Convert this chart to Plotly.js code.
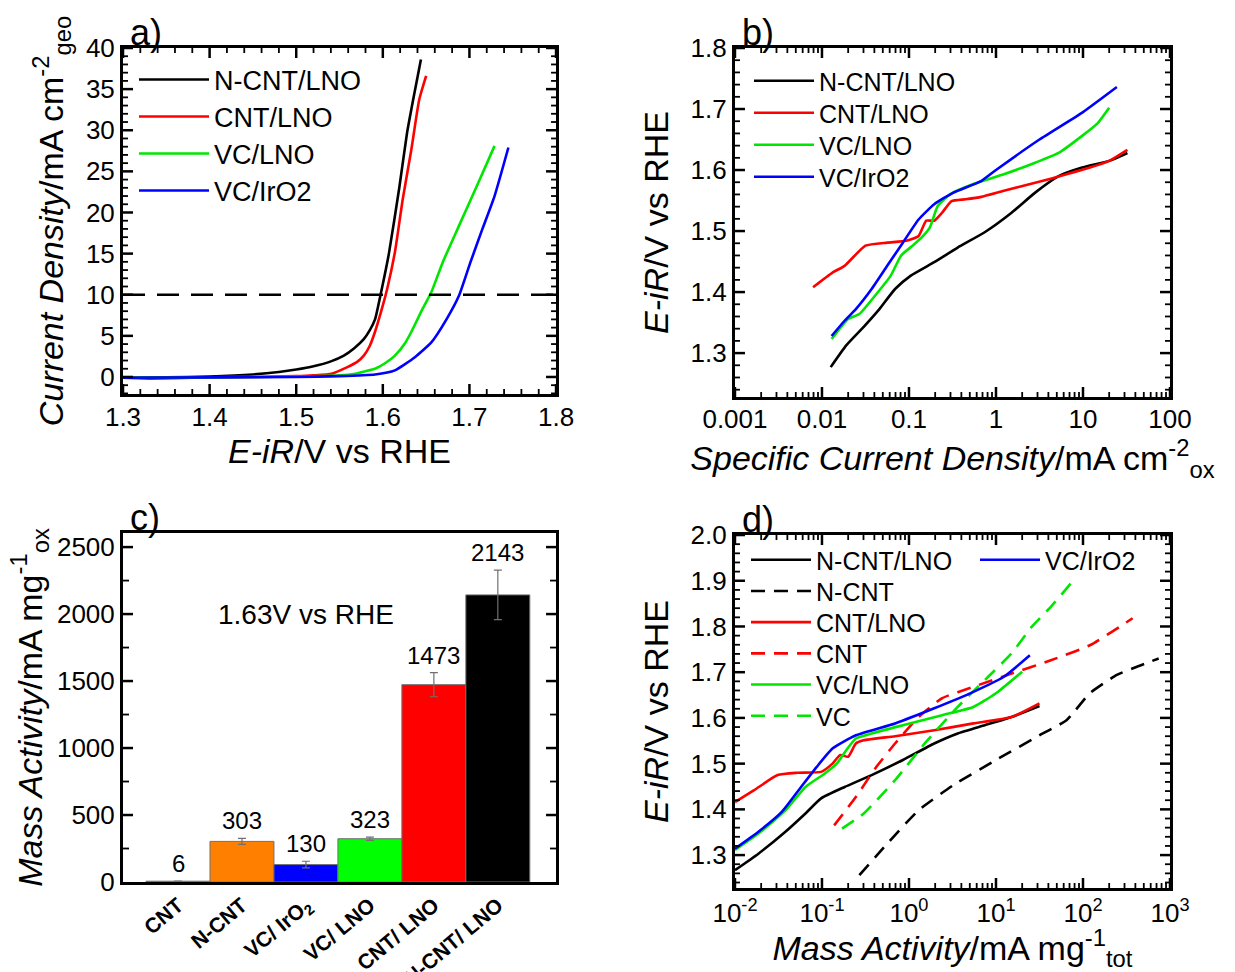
<!DOCTYPE html>
<html><head><meta charset="utf-8">
<script src="https://cdn.plot.ly/plotly-3.0.1.min.js"></script>
<style>body{margin:0;background:#fff}#chart{width:1235px;height:972px}</style>
</head><body><div id="chart"></div>
<script>
// ---------- Panel a: polarisation curves ----------
const aNcntLnoX = [1.30,1.35,1.40,1.45,1.48,1.50,1.52,1.54,1.555,1.567,1.578,1.585,1.591,1.598,1.607,1.619,1.628,1.635,1.644];
const aNcntLnoY = [-0.1,-0.05,0.05,0.3,0.6,0.9,1.3,1.9,2.6,3.5,4.6,5.7,7.0,10.3,15.0,23.0,29.7,33.7,38.6];
const aCntLnoX = [1.30,1.33,1.36,1.40,1.45,1.50,1.52,1.541,1.559,1.570,1.578,1.585,1.591,1.600,1.605,1.614,1.623,1.633,1.642,1.650];
const aCntLnoY = [-0.1,-0.2,-0.15,-0.05,0,0.1,0.2,0.4,1.2,1.8,2.6,3.8,5.5,8.7,10.7,15.2,21.6,27.7,33.7,36.6];
const aVcLnoX = [1.30,1.40,1.50,1.55,1.568,1.580,1.591,1.603,1.614,1.625,1.633,1.646,1.656,1.669,1.688,1.711,1.729];
const aVcLnoY = [-0.1,-0.05,0.05,0.2,0.4,0.7,1.0,1.7,2.6,4.0,5.5,8.3,10.3,13.9,18.4,23.8,28.1];
const aVcIrX = [1.30,1.40,1.50,1.55,1.591,1.614,1.637,1.656,1.674,1.688,1.701,1.715,1.729,1.745];
const aVcIrY = [-0.1,-0.05,0.0,0.1,0.3,0.8,2.4,4.2,7.1,9.9,13.9,18.0,22.0,27.9];
const aRefLineX = [1.3, 1.8];
const aRefLineY = [10, 10];
// ---------- Panel b: Tafel vs specific current density ----------
const bNcntLnoX = [0.0126,0.0191,0.0302,0.0457,0.0692,0.105,0.195,0.363,0.741,1.51,2.82,5.25,9.77,20.0,32.4];
const bNcntLnoY = [1.277,1.313,1.343,1.372,1.405,1.427,1.449,1.473,1.498,1.530,1.563,1.590,1.604,1.615,1.628];
const bCntLnoX = [0.0079,0.0132,0.0182,0.0316,0.0562,0.0933,0.129,0.158,0.195,0.240,0.309,0.447,0.676,1.23,2.82,6.46,12.0,20.0,32.4];
const bCntLnoY = [1.408,1.432,1.443,1.476,1.481,1.484,1.492,1.517,1.517,1.530,1.549,1.552,1.556,1.566,1.579,1.593,1.604,1.615,1.633];
const bVcLnoX = [0.0129,0.0200,0.0269,0.0407,0.0617,0.0813,0.110,0.141,0.174,0.214,0.295,0.550,1.23,2.82,5.25,9.77,14.8,20.0];
const bVcLnoY = [1.323,1.356,1.364,1.394,1.427,1.460,1.476,1.490,1.506,1.541,1.560,1.577,1.593,1.612,1.628,1.656,1.677,1.702];
const bVcIrX = [0.0129,0.0182,0.0245,0.0372,0.0562,0.0851,0.129,0.195,0.324,0.676,1.0,3.16,10.0,24.5];
const bVcIrY = [1.328,1.353,1.372,1.405,1.443,1.481,1.519,1.544,1.563,1.582,1.600,1.650,1.695,1.736];
const bTickVals = [0.001,0.01,0.1,1,10,100];
const bTickText = ['0.001','0.01','0.1','1','10','100'];
// ---------- Panel c: mass activity bars ----------
const cCategories = ['CNT','N-CNT','VC/ IrO<sub>2</sub>','VC/ LNO','CNT/ LNO','N-CNT/ LNO'];
const cValues = [6,303,130,323,1473,2143];
const cErrors = [0,22,25,12,90,185];
const cColors = ['#808080','#ff8000','#0000ff','#00ff00','#ff0000','#000000'];
// ---------- Panel d: Tafel vs mass activity ----------
const dNcntLnoX = [0.01,0.0186,0.0380,0.0646,0.0977,0.182,0.372,0.851,1.95,3.63,7.41,15.1,31.6];
const dNcntLnoY = [1.267,1.303,1.351,1.391,1.424,1.449,1.475,1.508,1.544,1.566,1.584,1.602,1.626];
const dNcntX = [0.269,0.562,1.29,3.24,10.0,31.6,64.6,120,245,417,741];
const dNcntY = [1.256,1.325,1.398,1.453,1.508,1.562,1.595,1.654,1.694,1.712,1.730];
const dCntLnoX = [0.01,0.0166,0.0309,0.0525,0.0977,0.132,0.162,0.200,0.245,0.302,0.692,1.95,5.50,15.1,31.6];
const dCntLnoY = [1.416,1.442,1.475,1.480,1.482,1.500,1.519,1.515,1.544,1.551,1.560,1.573,1.588,1.602,1.632];
const dCntX = [0.138,0.245,0.407,0.692,1.29,2.40,5.50,15.1,42.7,120,372];
const dCntY = [1.365,1.427,1.489,1.544,1.602,1.643,1.668,1.697,1.726,1.759,1.818];
const dVcLnoX = [0.01,0.0186,0.0380,0.0646,0.107,0.148,0.191,0.245,0.372,0.851,2.40,5.50,10.0,20.0];
const dVcLnoY = [1.311,1.347,1.398,1.449,1.478,1.500,1.530,1.555,1.566,1.584,1.606,1.624,1.654,1.701];
const dVcX = [0.170,0.302,0.692,1.58,3.63,8.13,15.1,25.7,42.7,72.4];
const dVcY = [1.358,1.391,1.464,1.548,1.624,1.690,1.741,1.799,1.843,1.894];
const dVcIrX = [0.01,0.0186,0.0347,0.0575,0.0871,0.132,0.245,0.692,1.95,5.50,12.3,24.5];
const dVcIrY = [1.314,1.351,1.395,1.449,1.493,1.533,1.562,1.588,1.621,1.657,1.690,1.737];
const dTickVals = [0.01,0.1,1,10,100,1000];
const dTickText = ['10<sup>-2</sup>','10<sup>-1</sup>','10<sup>0</sup>','10<sup>1</sup>','10<sup>2</sup>','10<sup>3</sup>'];

// ---------- styling ----------
const FONT = 'Liberation Sans, Arial, sans-serif';
const BLACK = '#000000', RED = '#ff0000', GREEN = '#00e600', BLUE = '#0000ff';
const LW = 2.6;
const DASH_D = '14px,9px';
function ln(x, y, color, name, xa, ya, legend, dash, showlegend) {
  return {x, y, type: 'scatter', mode: 'lines', name, xaxis: xa, yaxis: ya,
    legend: legend, showlegend: showlegend !== false,
    line: {color, width: LW, dash: dash || 'solid', shape: 'spline', smoothing: 0.5}, hoverinfo: 'skip'};
}
const traces = [
  ln(aNcntLnoX, aNcntLnoY, BLACK, 'N-CNT/LNO', 'x', 'y', 'legend'),
  ln(aCntLnoX, aCntLnoY, RED, 'CNT/LNO', 'x', 'y', 'legend2'),
  ln(aVcLnoX, aVcLnoY, GREEN, 'VC/LNO', 'x', 'y', 'legend3'),
  ln(aVcIrX, aVcIrY, BLUE, 'VC/IrO2', 'x', 'y', 'legend4'),
  ln(aRefLineX, aRefLineY, BLACK, 'ref', 'x', 'y', 'legend', '22px,12px', false),
  ln(bNcntLnoX, bNcntLnoY, BLACK, 'N-CNT/LNO', 'x2', 'y2', 'legend5'),
  ln(bCntLnoX, bCntLnoY, RED, 'CNT/LNO', 'x2', 'y2', 'legend6'),
  ln(bVcLnoX, bVcLnoY, GREEN, 'VC/LNO', 'x2', 'y2', 'legend7'),
  ln(bVcIrX, bVcIrY, BLUE, 'VC/IrO2', 'x2', 'y2', 'legend8'),
  {type: 'bar', x: cCategories, y: cValues, width: 1, xaxis: 'x3', yaxis: 'y3', showlegend: false,
   marker: {color: cColors, line: {color: '#707070', width: 1}},
   error_y: {type: 'data', array: cErrors, visible: true, color: '#707070', thickness: 1.2, width: 4},
   hoverinfo: 'skip'},
  ln(dNcntLnoX, dNcntLnoY, BLACK, 'N-CNT/LNO', 'x4', 'y4', 'legend9'),
  ln(dNcntX, dNcntY, BLACK, 'N-CNT', 'x4', 'y4', 'legend10', DASH_D),
  ln(dCntLnoX, dCntLnoY, RED, 'CNT/LNO', 'x4', 'y4', 'legend11'),
  ln(dCntX, dCntY, RED, 'CNT', 'x4', 'y4', 'legend12', DASH_D),
  ln(dVcLnoX, dVcLnoY, GREEN, 'VC/LNO', 'x4', 'y4', 'legend13'),
  ln(dVcX, dVcY, GREEN, 'VC', 'x4', 'y4', 'legend14', DASH_D),
  ln(dVcIrX, dVcIrY, BLUE, 'VC/IrO2', 'x4', 'y4', 'legend15')
];
const tickFont = {family: FONT, size: 26, color: '#000'};
const titleFont = {family: FONT, size: 34, color: '#000'};
function axisBase(extra) {
  return Object.assign({
    showline: true, linecolor: '#000', linewidth: 3, mirror: true,
    ticks: '', showgrid: false, zeroline: false, tickfont: tickFont, automargin: false
  }, extra);
}
const PX_L = 123, PX_W = 1047, PX_B = 888, PX_H = 840;
const DOM_A = {x: [0, 0.4136], y: [0.5881, 1]};
const DOM_B = {x: [0.5845, 1], y: [0.5845, 1]};
const DOM_C = {x: [0, 0.4136], y: [0.00714, 0.4226]};
const DOM_D = {x: [0.5845, 1], y: [0, 0.4202]};
const layout = {
  width: 1235, height: 972,
  margin: {l: 123, r: 65, t: 48, b: 84},
  xaxis: axisBase({domain: DOM_A.x, range: [1.3, 1.8], dtick: 0.1, tickformat: '.1f', ticklabelstandoff: -2,
    anchor: 'y', title: {text: '<i>E-iR</i>/V vs RHE', font: titleFont, standoff: 8}}),
  yaxis: axisBase({domain: DOM_A.y, range: [-2.07, 40], dtick: 5,
    anchor: 'x', title: {text: '<i>Current Density</i>/mA cm<sup>-2</sup><sub>geo</sub>', font: titleFont, standoff: 12}}),
  xaxis2: axisBase({domain: DOM_B.x, type: 'log', range: [-3, 2], tickmode: 'array',
    tickvals: bTickVals, ticktext: bTickText, ticklabelstandoff: -3,
    anchor: 'y2', title: {text: '<i>Specific Current Density</i>/mA cm<sup>-2</sup><sub>ox</sub>', font: titleFont, standoff: 2}}),
  yaxis2: axisBase({domain: DOM_B.y, range: [1.228, 1.8], dtick: 0.1, tickformat: '.1f',
    anchor: 'x2', title: {text: '<i>E-iR</i>/V vs RHE', font: titleFont, standoff: 12}}),
  xaxis3: axisBase({domain: DOM_C.x, range: [-0.86, 5.91], type: 'category',
    tickangle: -40, tickfont: {family: FONT, size: 21, color: '#000', weight: 'bold'}, anchor: 'y3'}),
  yaxis3: axisBase({domain: DOM_C.y, range: [0, 2605], dtick: 500,
    anchor: 'x3', title: {text: '<i>Mass Activity</i>/mA mg<sup>-1</sup><sub>ox</sub>', font: titleFont, standoff: 5}}),
  xaxis4: axisBase({domain: DOM_D.x, type: 'log', range: [-2, 3], tickmode: 'array',
    tickvals: dTickVals, ticktext: dTickText,
    anchor: 'y4', title: {text: '<i>Mass Activity</i>/mA mg<sup>-1</sup><sub>tot</sub>', font: titleFont, standoff: 4}}),
  yaxis4: axisBase({domain: DOM_D.y, range: [1.228, 2.0], dtick: 0.1, tickformat: '.1f',
    anchor: 'x4', title: {text: '<i>E-iR</i>/V vs RHE', font: titleFont, standoff: 12}}),
  annotations: [],
  shapes: [],
  showlegend: true
};

// ---------- inward tick marks on all four sides (axis decoration, drawn as layout shapes) ----------
function tickShape(xref, yref, x0, x1, y0, y1, w) {
  layout.shapes.push({type: 'line', xref, yref, x0, x1, y0, y1, layer: 'above',
    line: {color: '#000', width: w}});
}
// ticks along an x axis: value v (data or domain fraction), both bottom and top edges
function xTicks(xref, ya, vals, hPx, lenPx, w) {
  const f = lenPx / hPx;
  vals.forEach(v => { tickShape(xref, ya + ' domain', v, v, 0, f, w); tickShape(xref, ya + ' domain', v, v, 1, 1 - f, w); });
}
function yTicks(xa, yref, vals, wPx, lenPx, w) {
  const f = lenPx / wPx;
  vals.forEach(v => { tickShape(xa + ' domain', yref, 0, f, v, v, w); tickShape(xa + ' domain', yref, 1, 1 - f, v, v, w); });
}
function steps(a, b, d) { const out = []; for (let v = a; v <= b + 1e-9; v += d) out.push(+v.toFixed(6)); return out; }
function logFracs(minExp, maxExp, minor) {
  const out = [];
  for (let e = minExp; e < maxExp; e++) {
    (minor ? [2,3,4,5,6,7,8,9] : [1]).forEach(m => out.push((e + Math.log10(m) - minExp) / (maxExp - minExp)));
  }
  if (!minor) out.push(1);
  return out;
}
const PXW = d => (d[1] - d[0]) * PX_W, PXH = d => (d[1] - d[0]) * PX_H;
const MAJ = 10, MIN = 5, MAJW = 2.5, MINW = 1.8;
// panel a
xTicks('x', 'y', steps(1.3, 1.8, 0.1), PXH(DOM_A.y), MAJ, MAJW);
xTicks('x', 'y', steps(1.32, 1.78, 0.02).filter(v => Math.abs((v * 10) % 1) > 1e-6 && Math.abs((v * 10) % 1 - 1) > 1e-6), PXH(DOM_A.y), MIN, MINW);
yTicks('x', 'y', steps(0, 40, 5), PXW(DOM_A.x), MAJ, MAJW);
yTicks('x', 'y', steps(-2, 39, 1).filter(v => v % 5 !== 0), PXW(DOM_A.x), MIN, MINW);
// panel b
xTicks('x2 domain', 'y2', logFracs(-3, 2, false), PXH(DOM_B.y), MAJ, MAJW);
xTicks('x2 domain', 'y2', logFracs(-3, 2, true), PXH(DOM_B.y), MIN, MINW);
yTicks('x2', 'y2', steps(1.3, 1.8, 0.1), PXW(DOM_B.x), MAJ, MAJW);
yTicks('x2', 'y2', steps(1.24, 1.78, 0.02).filter(v => Math.abs(Math.round(v * 10) - v * 10) > 1e-6), PXW(DOM_B.x), MIN, MINW);
// panel c
yTicks('x3', 'y3', steps(500, 2500, 500), PXW(DOM_C.x), MAJ, MAJW);
yTicks('x3', 'y3', steps(250, 2250, 500), PXW(DOM_C.x), MIN + 1, MINW);
// panel d
xTicks('x4 domain', 'y4', logFracs(-2, 3, false), PXH(DOM_D.y), MAJ, MAJW);
xTicks('x4 domain', 'y4', logFracs(-2, 3, true), PXH(DOM_D.y), MIN, MINW);
yTicks('x4', 'y4', steps(1.3, 2.0, 0.1), PXW(DOM_D.x), MAJ, MAJW);
yTicks('x4', 'y4', steps(1.24, 1.98, 0.02).filter(v => Math.abs(Math.round(v * 10) - v * 10) > 1e-6), PXW(DOM_D.x), MIN, MINW);

// one legend box per entry, placed at the entry's pixel centre
function placeLegend(name, xpx, ypx, size, itemwidth) {
  layout[name] = {x: (xpx - PX_L) / PX_W, y: (PX_B - ypx) / PX_H, xanchor: 'left', yanchor: 'middle',
    bgcolor: 'rgba(0,0,0,0)', borderwidth: 0,
    font: {family: FONT, size: size, color: '#000'}, itemwidth: itemwidth};
}
['legend','legend2','legend3','legend4'].forEach((n, i) => placeLegend(n, 134, 80 + i * 37, 27, 70));
['legend5','legend6','legend7','legend8'].forEach((n, i) => placeLegend(n, 749, 81 + i * 32, 25, 60));
['legend9','legend10','legend11','legend12','legend13','legend14'].forEach((n, i) => placeLegend(n, 746, 560 + i * 31.2, 25, 60));
placeLegend('legend15', 975, 560, 25, 60);
// panel letters
[['a)', 'x', 'y'], ['b)', 'x2', 'y2'], ['c)', 'x3', 'y3'], ['d)', 'x4', 'y4']].forEach(([t, xa, ya]) => {
  layout.annotations.push({text: t, xref: xa + ' domain', yref: ya + ' domain', x: 0.012, y: 1,
    xanchor: 'left', yanchor: 'bottom', yshift: -7, showarrow: false, font: {family: FONT, size: 36, color: '#000'}});
});
// bar value labels
cCategories.forEach((c, i) => {
  layout.annotations.push({text: String(cValues[i]), x: c, y: cValues[i] + cErrors[i], xref: 'x3', yref: 'y3',
    yanchor: 'bottom', yshift: 2, showarrow: false, font: {family: FONT, size: 24, color: '#000'}});
});
layout.annotations.push({text: '1.63V vs RHE', x: 2, y: 2000, xref: 'x3', yref: 'y3', showarrow: false,
  font: {family: FONT, size: 28, color: '#000'}});

Plotly.newPlot('chart', traces, layout, {staticPlot: true, displayModeBar: false});
</script>
</body></html>
